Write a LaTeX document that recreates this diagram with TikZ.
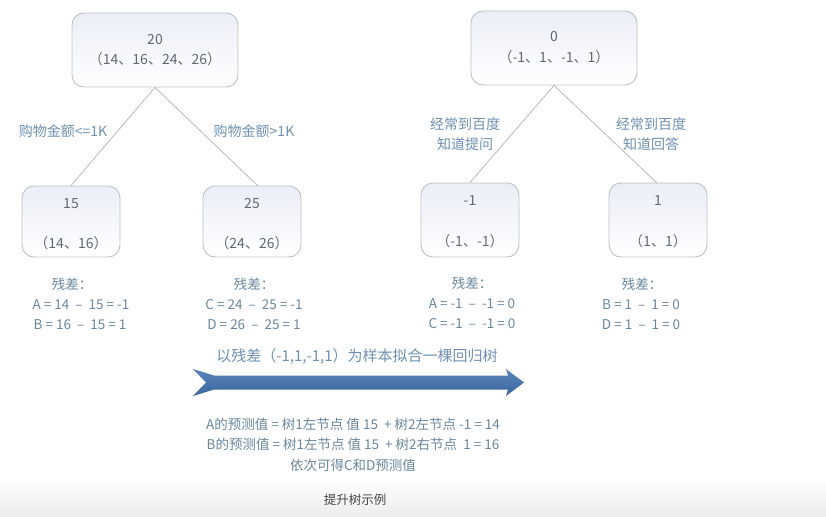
\documentclass[tikz,border=0pt]{standalone}
\usepackage{fontspec}
\setmainfont{Noto Sans CJK SC}
\usetikzlibrary{shapes.misc}
\definecolor{boxline}{RGB}{190,194,200}
\definecolor{boxtop}{RGB}{234,238,246}
\definecolor{boxtxt}{RGB}{95,105,115}
\definecolor{lbltxt}{RGB}{110,145,180}
\definecolor{restxt}{RGB}{105,135,160}
\definecolor{edgec}{RGB}{185,185,185}
\definecolor{arrtop}{RGB}{88,132,190}
\definecolor{arrbot}{RGB}{60,102,156}
\definecolor{bandc}{RGB}{236,236,236}
\definecolor{captxt}{RGB}{70,70,70}
\tikzset{
  treebox/.style={draw=boxline, line width=0.9pt, rounded corners=12pt,
    top color=boxtop, bottom color=white, inner sep=0pt},
  boxtext/.style={text=boxtxt, font=\fontsize{14}{16}\selectfont, inner sep=0pt},
  lbl/.style={text=lbltxt, font=\fontsize{14}{20}\selectfont, align=center, inner sep=0pt},
  res/.style={text=restxt, font=\fontsize{13.5}{15}\selectfont, inner sep=0pt},
  edge/.style={draw=edgec, line width=0.8pt},
  bigtext/.style={text=lbltxt, font=\fontsize{15}{17}\selectfont, inner sep=0pt},
}
\begin{document}
\begin{tikzpicture}[x=1pt,y=-1pt]
\useasboundingbox (0,0) rectangle (826,516);
\fill[white] (0,0) rectangle (826,516);
% bottom band
\shade[top color=white, bottom color=bandc] (0,478) rectangle (826,516);

% ---- Tree 1 ----
\node[treebox, minimum width=166pt, minimum height=74pt] (r1) at (155,50) {};
\node[boxtext] (r1a) at (155,40) {20};
\node[boxtext] (r1b) at (155,59) {（14、16、24、26）};
\node[treebox, minimum width=98pt, minimum height=71pt] (l1) at (71,221.5) {};
\node[boxtext] (l1a) at (71,204) {15};
\node[boxtext] (l1b) at (71,243) {（14、16）};
\node[treebox, minimum width=98pt, minimum height=71pt] (rr1) at (252,221.5) {};
\node[boxtext] (rr1a) at (252,204) {25};
\node[boxtext] (rr1b) at (252,243) {（24、26）};
\coordinate (r1e) at (258,186);
\draw[edge] (r1.south) -- (l1.north);
\draw[edge] (r1.south) -- (r1e);
\node[lbl] (c1) at (63,131) {购物金额<=1K};
\node[lbl] (c2) at (254,131) {购物金额>1K};

\node[res] (s1) at (72,284) {残差：};
\node[res] (s1a) at (81,305) {A = 14 \ –\ \ 15 = -1};
\node[res] (s1b) at (80,325) {B = 16 \ –\ \ 15 = 1};
\node[res] (s2) at (254,284) {残差：};
\node[res] (s2a) at (254,305) {C = 24 \ –\ \ 25 = -1};
\node[res] (s2b) at (254,325) {D = 26 \ –\ \ 25 = 1};

% ---- Tree 2 ----
\node[treebox, minimum width=166pt, minimum height=74pt] (r2) at (554,48) {};
\node[boxtext] (r2a) at (554,37) {0};
\node[boxtext] (r2b) at (554,57) {（-1、1、-1、1）};
\node[treebox, minimum width=98pt, minimum height=74pt] (l2) at (470,220) {};
\node[boxtext] (l2a) at (470,201) {-1};
\node[boxtext] (l2b) at (470,241) {（-1、-1）};
\node[treebox, minimum width=98pt, minimum height=74pt] (rr2) at (658,220) {};
\node[boxtext] (rr2a) at (658,201) {1};
\node[boxtext] (rr2b) at (658,241) {（1、1）};
\coordinate (r2e) at (657,183);
\draw[edge] (r2.south) -- (l2.north);
\draw[edge] (r2.south) -- (r2e);
\node[lbl] (c3) at (465,134) {经常到百度\\知道提问};
\node[lbl] (c4) at (651,134) {经常到百度\\知道回答};

\node[res] (s3) at (472,283) {残差：};
\node[res] (s3a) at (472,304) {A = -1 \ –\ \ -1 = 0};
\node[res] (s3b) at (472,324) {C = -1 \ –\ \ -1 = 0};
\node[res] (s4) at (642,284) {残差：};
\node[res] (s4a) at (641,305) {B = 1 \ –\ \ 1 = 0};
\node[res] (s4b) at (641,325) {D = 1 \ –\ \ 1 = 0};

% ---- big arrow ----
\node[bigtext] (at) at (357,357) {以残差（-1,1,-1,1）为样本拟合一棵回归树};
\shade[top color=arrtop, bottom color=arrbot]
  (193,369) -- (214,375.5) -- (508,375.5) -- (506,369) -- (524,382.5)
  -- (506,396) -- (508,389.5) -- (214,389.5) -- (193,396) -- (206,382.5) -- cycle;

\node[res, font=\fontsize{13.5}{16}\selectfont] (p1) at (353,424) {A的预测值 = 树1左节点 值 15 \ + 树2左节点 -1 = 14};
\node[res, font=\fontsize{13.5}{16}\selectfont] (p2) at (353,444) {B的预测值 = 树1左节点 值 15 \ + 树2右节点 \ 1 = 16};
\node[res, font=\fontsize{13.5}{16}\selectfont] (p3) at (353,465) {依次可得C和D预测值};

\node[text=captxt, font=\fontsize{12.5}{15}\selectfont, inner sep=0pt] (cap) at (355,500) {提升树示例};
\end{tikzpicture}
\end{document}
